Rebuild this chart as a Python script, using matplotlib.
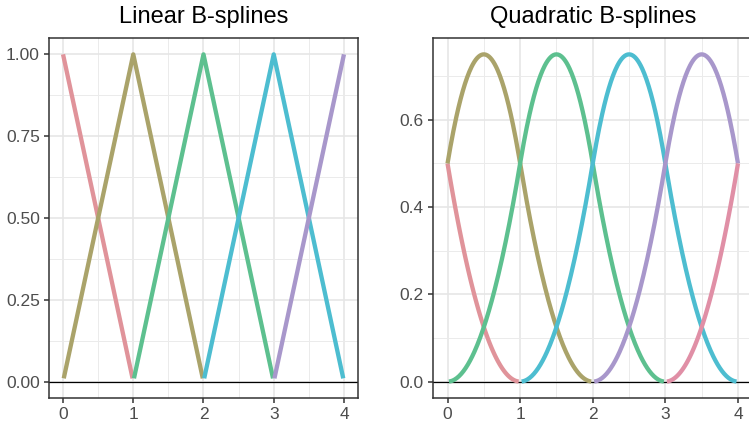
import numpy as np
import matplotlib
matplotlib.use("Agg")
import matplotlib.pyplot as plt
from matplotlib.ticker import MultipleLocator

plt.rcParams['font.family'] = ['Liberation Sans', 'DejaVu Sans']

# knots of the basis and the centres of each basis function
knots = [0, 1, 2, 3, 4]
linear_centres = [0, 1, 2, 3, 4]
quad_centres = [-0.5, 0.5, 1.5, 2.5, 3.5, 4.5]

linear_colors = ['#e0939a', '#aaa36a', '#5dc08f', '#4dbdd0', '#a897cb']
quad_colors = ['#e0939a', '#aaa36a', '#5dc08f', '#4dbdd0', '#a897cb', '#e08fa6']

linear_yticks = [0.00, 0.25, 0.50, 0.75, 1.00]
quad_yticks = [0.0, 0.2, 0.4, 0.6]

xs = np.arange(knots[0], knots[-1] + 0.001, 0.01)


def linear_basis(x, c):
    return np.clip(1 - np.abs(x - c), 0, None)


def quad_basis(x, c):
    t = np.abs(x - c)
    y = np.where(t <= 0.5, 0.75 - t ** 2, 0.5 * (1.5 - t) ** 2)
    return np.where(t < 1.5, y, 0.0)


W, H = 749, 424
fig = plt.figure(figsize=(W / 100, H / 100), dpi=100)
ax1 = fig.add_axes([49 / W, 1 - 398 / H, (358 - 49) / W, (398 - 38) / H])
ax2 = fig.add_axes([433 / W, 1 - 398 / H, (752.5 - 433) / W, (398 - 38) / H])


def style(ax, title, yticks, fmt):
    ax.set_facecolor('white')
    ax.set_xlim(-0.2, 4.2)
    ax.xaxis.set_major_locator(MultipleLocator(1))
    ax.xaxis.set_minor_locator(MultipleLocator(0.5))
    ax.set_yticks(yticks)
    ax.set_yticklabels([fmt.format(v) for v in yticks])
    step = yticks[1] - yticks[0]
    ax.yaxis.set_minor_locator(MultipleLocator(step / 2))
    ax.grid(True, which='major', color='#e6e6e6', lw=1.2)
    ax.grid(True, which='minor', color='#ebebeb', lw=0.7)
    ax.set_axisbelow(True)
    for s in ax.spines.values():
        s.set_color('#333333')
        s.set_linewidth(1.1)
    ax.tick_params(which='major', length=3.5, width=1.1, color='#333333',
                   labelcolor='#4d4d4d', labelsize=12.5, pad=3)
    ax.tick_params(which='minor', length=0)
    ax.axhline(0, color='black', lw=0.9, zorder=1.5)
    ax.set_title(title, fontsize=17, pad=11)


style(ax1, 'Linear B-splines', linear_yticks, '{:.2f}')
style(ax2, 'Quadratic B-splines', quad_yticks, '{:.1f}')
ax1.set_ylim(-0.05, 1.05)
ax2.set_ylim(-0.0375, 0.7875)

for c, col in zip(linear_centres, linear_colors):
    y = linear_basis(xs, c)
    m = y > 0.005
    ax1.plot(xs[m], y[m], color=col, lw=3.1, solid_capstyle='butt', zorder=2)

for c, col in zip(quad_centres, quad_colors):
    y = quad_basis(xs, c)
    m = y > 0.0002
    ax2.plot(xs[m], y[m], color=col, lw=3.1, solid_capstyle='butt', zorder=2)

fig.savefig('out.png', dpi=100)
